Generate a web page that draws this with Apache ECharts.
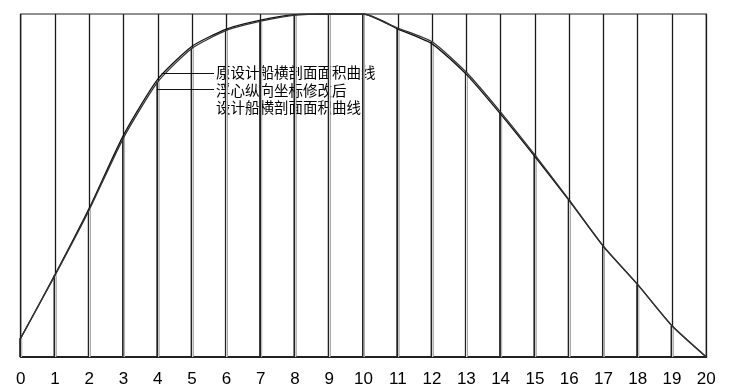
<!DOCTYPE html>
<html>
<head>
<meta charset="utf-8">
<script src="https://cdn.jsdelivr.net/npm/echarts@6/dist/echarts.min.js"></script>
<style>html,body{margin:0;padding:0;background:#fff;}#c{width:738px;height:388px;}</style>
</head>
<body>
<div id="c"></div>
<script>
// Stations 0..20
var stations = [0,1,2,3,4,5,6,7,8,9,10,11,12,13,14,15,16,17,18,19,20];
// Original design sectional-area curve (% of max)
var originalArea = [5.5,24.0,43.4,64.7,81.0,90.6,95.6,98.2,99.8,100,100,95.6,91.3,82.4,70.8,58.4,45.6,32.2,21.1,9.1,0];
// Modified design (LCB changed) sectional-area curve (% of max)
var modifiedArea = [5.5,23.8,42.9,63.9,80.2,90.0,95.2,97.9,99.7,100,100,95.9,91.9,83.0,71.4,58.9,45.8,32.3,21.1,9.1,0];
var labelLines = ['原设计船横剖面面积曲线', '浮心纵向坐标修改后', '设计船横剖面面积曲线'];
// leader endpoints in data units [station, area]
var leader1 = [[4.11, 82.7], [5.64, 82.7]];
var leader2 = [[3.97, 78.1], [5.64, 78.1]];

function pairs(xs, ys){ return xs.map(function(x,i){ return [x, ys[i]]; }); }

var chart = echarts.init(document.getElementById('c'));
chart.setOption({
  animation: false,
  backgroundColor: '#fff',
  grid: {left: 20.7, right: 31.7, top: 14, bottom: 30.7, show: true, borderColor: '#222', borderWidth: 1.2, backgroundColor: 'transparent'},
  xAxis: {
    type: 'value', min: 0, max: 20, interval: 1,
    axisLine: {show: true, lineStyle: {color: '#222', width: 2}},
    axisTick: {show: false},
    axisLabel: {color: '#000', fontSize: 17, fontFamily: 'Liberation Sans, Arial, sans-serif', margin: 14},
    splitLine: {show: true, lineStyle: {color: '#1a1a1a', width: 1.3}}
  },
  yAxis: {
    type: 'value', min: 0, max: 100,
    show: false, splitLine: {show: false}
  },
  series: [
    {
      type: 'bar', barWidth: 3, z: 1, silent: true,
      data: pairs(stations, modifiedArea),
      itemStyle: {color: new echarts.graphic.LinearGradient(0,0,1,0,[
        {offset:0,color:'#222'},{offset:0.45,color:'#222'},{offset:0.55,color:'#e8e8e8'},{offset:1,color:'#888'}])}
    },
    {
      type: 'line', smooth: 0.2, symbol: 'none', z: 3,
      data: pairs(stations, originalArea),
      lineStyle: {color: '#111', width: 1.3},
      markLine: {
        silent: true, symbol: 'none',
        lineStyle: {color: '#111', width: 1.2, type: 'solid'},
        label: {show: false},
        data: [
          [{coord: leader1[0]}, {coord: leader1[1]}],
          [{coord: leader2[0]}, {coord: leader2[1]}]
        ]
      }
    },
    {
      type: 'line', smooth: 0.2, symbol: 'none', z: 3,
      data: pairs(stations, modifiedArea),
      lineStyle: {color: '#333', width: 1.3}
    }
  ],
  graphic: [{
    type: 'text', left: 216, top: 64,
    style: {
      text: labelLines.join('\n'),
      fill: '#000', fontSize: 14.5, lineHeight: 17.5,
      fontFamily: 'Noto Sans CJK SC, sans-serif'
    }
  }]
});
</script>
</body>
</html>
